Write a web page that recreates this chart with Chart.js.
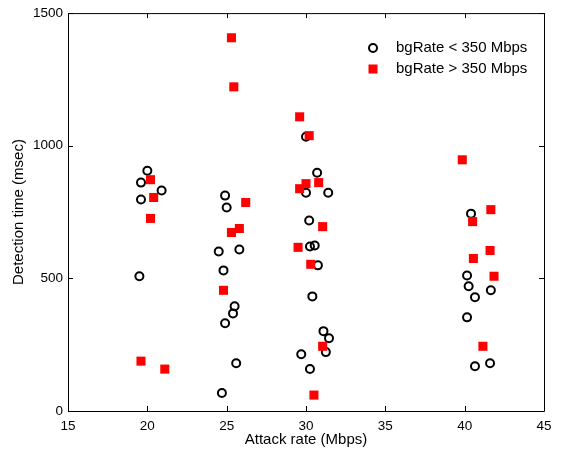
<!DOCTYPE html>
<html>
<head>
  <meta charset="UTF-8">
  <title>Detection time vs attack rate</title>
  <script src="https://cdn.jsdelivr.net/npm/chart.js"></script>
  <style>
    body { margin: 0; background: #fff; }
  </style>
</head>
<body>
  <canvas id="scatterChart" width="569" height="449"></canvas>

  <script>
    // bgRate < 350 Mbps (open circles)
    const lowX = [20.0, 19.6, 19.6, 20.9, 19.5,
                  24.9, 25.0, 24.5, 25.8, 24.8, 25.5, 25.4, 24.9, 25.6, 24.7,
                  30.0, 30.7, 30.0, 31.4, 30.2, 30.25, 30.55, 30.75, 30.4, 31.1, 31.45, 31.25, 29.7, 30.25,
                  40.4, 40.15, 40.25, 40.65, 41.65, 40.15, 40.65, 41.6];
    const lowY = [906, 861, 797, 831, 508,
                  812, 767, 601, 609, 530, 395, 368, 331, 180, 68,
                  1034, 898, 823, 823, 718, 620, 624, 549, 432, 301, 274, 222, 214, 158,
                  744, 511, 470, 429, 455, 353, 169, 180];

    // bgRate > 350 Mbps (red squares)
    const highX = [20.2, 20.4, 20.2, 19.6, 21.1,
                   25.3, 25.45, 26.2, 25.8, 25.3, 24.8,
                   29.6, 30.2, 30.0, 29.6, 30.8, 31.05, 29.5, 30.3, 31.05, 30.5,
                   39.85, 41.65, 40.5, 41.6, 40.55, 41.85, 41.15];
    const highY = [872, 805, 726, 188, 158,
                   1407, 1222, 786, 688, 673, 455,
                   1109, 1038, 857, 838, 861, 695, 617, 553, 244, 60,
                   947, 759, 714, 605, 575, 508, 244];

    const xTicks = [15, 20, 25, 30, 35, 40, 45];
    const yTicks = [0, 500, 1000, 1500];
    const legendLabels = ["bgRate < 350 Mbps", "bgRate > 350 Mbps"];

    const FONT = "'Liberation Sans', Arial, sans-serif";
    const toPoints = (xs, ys) => xs.map((x, i) => ({ x: x, y: ys[i] }));

    // box around the plot with inward ticks, matlab style
    const framePlugin = {
      id: "frame",
      afterDraw(chart) {
        const ctx = chart.ctx;
        const a = chart.chartArea;
        const xs = chart.scales.x, ys = chart.scales.y;
        const len = 5;
        ctx.save();
        ctx.strokeStyle = "#000";
        ctx.lineWidth = 1;
        ctx.beginPath();
        ctx.rect(a.left + 0.5, a.top + 0.5, a.right - a.left, a.bottom - a.top);
        xTicks.forEach(v => {
          const px = Math.round(xs.getPixelForValue(v)) + 0.5;
          ctx.moveTo(px, a.bottom); ctx.lineTo(px, a.bottom - len);
          ctx.moveTo(px, a.top); ctx.lineTo(px, a.top + len);
        });
        yTicks.forEach(v => {
          const py = Math.round(ys.getPixelForValue(v)) + 0.5;
          ctx.moveTo(a.left, py); ctx.lineTo(a.left + len, py);
          ctx.moveTo(a.right, py); ctx.lineTo(a.right - len, py);
        });
        ctx.stroke();

        // legend inside the axes, no box
        const lx = 373, ly = 48, gap = 21;
        ctx.beginPath();
        ctx.lineWidth = 2;
        ctx.arc(lx, ly, 4, 0, Math.PI * 2);
        ctx.stroke();
        ctx.fillStyle = "#ff0000";
        ctx.fillRect(lx - 4.5, ly + gap - 4.5, 9, 9);
        ctx.fillStyle = "#000";
        ctx.font = "15px " + FONT;
        ctx.textBaseline = "middle";
        ctx.fillText(legendLabels[0], 396, ly);
        ctx.fillText(legendLabels[1], 396, ly + gap);
        ctx.restore();
      }
    };

    new Chart(document.getElementById("scatterChart").getContext("2d"), {
      type: "scatter",
      data: {
        datasets: [
          {
            label: legendLabels[0],
            data: toPoints(lowX, lowY),
            pointStyle: "circle",
            pointRadius: 4,
            pointBorderWidth: 2,
            pointBorderColor: "#000",
            pointBackgroundColor: "rgba(0,0,0,0)",
            order: 1
          },
          {
            label: legendLabels[1],
            data: toPoints(highX, highY),
            pointStyle: "rect",
            pointRadius: 6.4,
            pointBorderWidth: 0,
            pointBackgroundColor: "#ff0000",
            pointBorderColor: "#ff0000",
            order: 0
          }
        ]
      },
      options: {
        responsive: false,
        animation: false,
        layout: { padding: { left: 0, right: 25, top: 12, bottom: 0 } },
        plugins: {
          legend: { display: false },
          tooltip: { enabled: false }
        },
        scales: {
          x: {
            type: "linear",
            min: 15,
            max: 45,
            afterBuildTicks: s => { s.ticks = xTicks.map(v => ({ value: v })); },
            afterFit: s => { s.height = 38; },
            grid: { display: false, drawTicks: false },
            border: { display: false },
            ticks: {
              padding: 7,
              color: "#000",
              maxRotation: 0,
              callback: v => String(v),
              font: { family: FONT, size: 13.5 }
            },
            title: {
              display: true,
              text: "Attack rate (Mbps)",
              color: "#000",
              padding: { top: 0, bottom: 0 },
              font: { family: FONT, size: 15 }
            }
          },
          y: {
            min: 0,
            max: 1500,
            afterBuildTicks: s => { s.ticks = yTicks.map(v => ({ value: v })); },
            afterFit: s => { s.width = 68; },
            grid: { display: false, drawTicks: false },
            border: { display: false },
            ticks: {
              padding: 5,
              color: "#000",
              callback: v => String(v),
              font: { family: FONT, size: 13.5 }
            },
            title: {
              display: true,
              text: "Detection time (msec)",
              color: "#000",
              padding: { top: 10, bottom: 0 },
              font: { family: FONT, size: 15 }
            }
          }
        }
      },
      plugins: [framePlugin]
    });
  </script>
</body>
</html>
